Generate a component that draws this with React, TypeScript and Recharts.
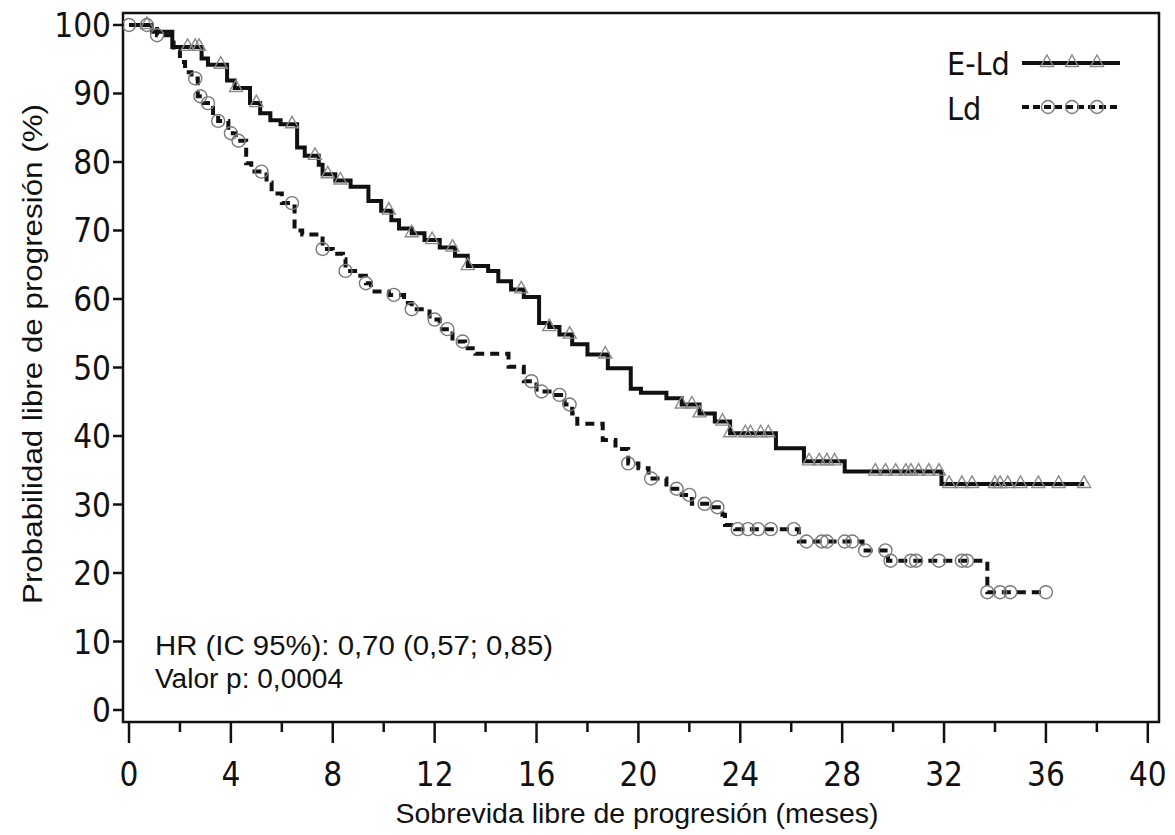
import { ComposedChart, Line, Scatter, XAxis, YAxis, ReferenceArea, Legend } from 'recharts';

const NARROW = '"Liberation Sans Narrow", "Arial Narrow", "DejaVu Sans Condensed", sans-serif';
const SANS = '"Liberation Sans", Arial, Helvetica, sans-serif';

const X_TICKS = [0, 2, 4, 6, 8, 10, 12, 14, 16, 18, 20, 22, 24, 26, 28, 30, 32, 34, 36, 38, 40];
const Y_TICKS = [0, 10, 20, 30, 40, 50, 60, 70, 80, 90, 100];

// E-Ld: step times (months) and survival (%) after each step
const eldTimes = [0, 0.9, 1.7, 2.85, 3.1, 3.85, 4.15, 4.75, 5.15, 5.55, 5.95, 6.6, 6.9, 7.45, 7.6, 8.1, 8.7, 9.4, 9.9, 10.3, 10.6, 11.1, 11.6, 12.2, 12.8, 13.3, 14.1, 14.5, 15.0, 15.5, 16.1, 16.5, 16.9, 17.4, 18.0, 18.8, 19.7, 20.1, 21.1, 21.7, 22.4, 23.0, 23.6, 25.4, 26.5, 28.1, 31.9, 37.5];
const eldSurv = [100, 99.0, 96.8, 95.1, 94.2, 91.9, 90.8, 88.6, 87.1, 86.1, 85.5, 82.1, 80.9, 79.6, 78.2, 77.3, 76.4, 74.3, 72.9, 71.5, 70.3, 69.6, 68.6, 67.5, 66.3, 64.8, 64.1, 62.6, 61.4, 60.3, 56.5, 55.9, 54.8, 53.4, 51.9, 49.9, 46.9, 46.3, 45.5, 44.6, 43.3, 42.1, 40.4, 38.2, 36.3, 34.8, 33.0, 33.0];
const eldCensored = [0.7, 2.3, 2.6, 2.75, 3.6, 4.2, 5.0, 6.4, 7.3, 7.8, 8.3, 10.2, 11.1, 11.9, 12.7, 13.3, 15.4, 16.5, 17.3, 18.7, 21.7, 22.1, 22.4, 23.3, 23.6, 24.2, 24.4, 24.8, 25.1, 26.7, 27.1, 27.4, 27.7, 29.3, 29.7, 30.1, 30.5, 30.7, 31.0, 31.4, 31.8, 32.2, 32.7, 33.1, 34.0, 34.2, 34.5, 35.0, 35.7, 36.5, 37.5];

// Ld
const ldTimes = [0, 1.1, 1.75, 2.0, 2.2, 2.45, 2.7, 2.9, 3.3, 3.5, 3.9, 4.2, 4.6, 4.8, 5.4, 5.6, 6.0, 6.5, 6.8, 7.6, 8.0, 8.4, 8.5, 9.0, 9.3, 9.5, 10.2, 10.8, 11.1, 11.8, 12.2, 12.7, 13.2, 13.6, 14.9, 15.5, 16.0, 16.6, 17.1, 17.4, 17.6, 18.6, 19.1, 19.6, 20.0, 20.4, 21.1, 21.7, 22.1, 22.7, 23.3, 23.4, 23.8, 26.3, 28.8, 29.8, 33.7, 36.0];
const ldSurv = [100, 98.5, 96.3, 94.6, 93.1, 92.2, 89.6, 88.6, 86.8, 86.0, 84.2, 83.1, 79.8, 78.6, 77.0, 75.4, 74.0, 70.0, 69.4, 67.3, 66.6, 65.8, 64.1, 63.4, 62.3, 61.1, 60.6, 59.4, 58.5, 57.0, 55.6, 53.8, 52.8, 52.0, 50.1, 48.0, 46.5, 46.0, 44.6, 43.3, 41.8, 39.4, 38.1, 36.0, 35.3, 33.8, 32.3, 31.4, 30.1, 29.6, 28.5, 27.0, 26.4, 24.6, 23.3, 21.8, 17.2, 17.2];
const ldCensored = [0, 0.7, 1.1, 2.6, 2.8, 3.1, 3.5, 4.0, 4.3, 5.2, 6.4, 7.6, 8.5, 9.3, 10.4, 11.1, 12.0, 12.5, 13.1, 15.8, 16.2, 16.9, 17.3, 19.6, 20.5, 21.5, 22.0, 22.6, 23.1, 23.9, 24.3, 24.7, 25.2, 26.1, 26.6, 27.2, 27.4, 28.1, 28.4, 28.9, 29.7, 29.9, 30.7, 30.9, 31.8, 32.7, 32.9, 33.7, 34.2, 34.6, 36.0];

function stepAt(times: number[], surv: number[], t: number) {
  let v = surv[0];
  for (let i = 0; i < times.length; i++) if (times[i] <= t) v = surv[i];
  return v;
}

const eldLine = eldTimes.map((t, i) => ({ t, s: eldSurv[i] }));
const ldLine = ldTimes.map((t, i) => ({ t, s: ldSurv[i] }));
const eldMarks = eldCensored.map(t => ({ t, s: stepAt(eldTimes, eldSurv, t) }));
const ldMarks = ldCensored.map(t => ({ t, s: stepAt(ldTimes, ldSurv, t) }));

const MARK_GREY = '#8a8a8a';

function triPath(cx: number, cy: number) {
  return `M${cx},${cy - 7} L${cx + 6.5},${cy + 4.5} L${cx - 6.5},${cy + 4.5} Z`;
}

const Triangle = (p: any) => (
  <path d={triPath(p.cx, p.cy - 1)} fill="none" stroke={MARK_GREY} strokeWidth={1.4} />
);
const Ring = (p: any) => (
  <circle cx={p.cx} cy={p.cy} r={6.5} fill="none" stroke="#7a7a7a" strokeWidth={1.4} />
);

const XTick = (p: any) => {
  const v = p.payload.value;
  const major = v % 4 === 0;
  return (
    <g>
      <line x1={p.x} x2={p.x} y1={p.y} y2={p.y + (major ? 21 : 10)} stroke="#111" strokeWidth={2.5} />
      {major && (
        <text x={p.x} y={p.y + 64} textAnchor="middle" fontFamily={NARROW} fontSize={33} fill="#111">
          {v}
        </text>
      )}
    </g>
  );
};

const YTick = (p: any) => (
  <g>
    <line x1={p.x - 10} x2={p.x} y1={p.y} y2={p.y} stroke="#111" strokeWidth={2.5} />
    <text x={p.x - 12} y={p.y + 12} textAnchor="end" fontFamily={NARROW} fontSize={33} fill="#111">
      {p.payload.value}
    </text>
  </g>
);

const renderLegend = () => (
  <svg width={220} height={95}>
    <text x={7} y={35} fontFamily={NARROW} fontSize={32} fill="#111">E-Ld</text>
    <line x1={82} x2={180} y1={23} y2={23} stroke="#111" strokeWidth={4} />
    {[107, 132, 157].map(x => (
      <path key={x} d={triPath(x, 22)} fill="none" stroke={MARK_GREY} strokeWidth={1.4} />
    ))}
    <text x={7} y={80} fontFamily={NARROW} fontSize={32} fill="#111">Ld</text>
    <line x1={82} x2={180} y1={67} y2={67} stroke="#111" strokeWidth={4} strokeDasharray="7 4" />
    {[108, 132, 157].map(x => (
      <circle key={x} cx={x} cy={67} r={6.5} fill="none" stroke="#7a7a7a" strokeWidth={1.4} />
    ))}
  </svg>
);

export default function App() {
  return (
    <div style={{ position: 'absolute', left: 0, top: 0, background: '#fff' }}>
      <ComposedChart width={1175} height={835} margin={{ top: 13, right: 16, bottom: 0, left: 0 }}>
        <XAxis
          dataKey="t"
          type="number"
          domain={[-0.236, 40.44]}
          ticks={X_TICKS}
          interval={0}
          allowDataOverflow
          axisLine={false}
          tickLine={false}
          tickSize={0}
          tickMargin={0}
          height={113}
          tick={XTick}
          label={{
            content: (props: any) => (
              <text x={637} y={823} textAnchor="middle" fontFamily={SANS} fontSize={27} fill="#111"
                textLength={483} lengthAdjust="spacingAndGlyphs">
                Sobrevida libre de progresión (meses)
              </text>
            ),
          }}
        />
        <YAxis
          type="number"
          domain={[-1.75, 101.75]}
          ticks={Y_TICKS}
          interval={0}
          allowDataOverflow
          axisLine={false}
          tickLine={false}
          tickSize={0}
          tickMargin={0}
          width={123}
          tick={YTick}
          label={{
            content: (props: any) => (
              <text x={0} y={0} transform="translate(42,354) rotate(-90)" textAnchor="middle" fontFamily={SANS}
                fontSize={28} fill="#111" textLength={500} lengthAdjust="spacingAndGlyphs">
                Probabilidad libre de progresión (%)
              </text>
            ),
          }}
        />
        <ReferenceArea x1={-0.236} x2={40.44} y1={-1.75} y2={101.75} fill="none" stroke="#111" strokeWidth={2.5} />
        <Legend
          layout="vertical"
          align="center"
          verticalAlign="middle"
          content={renderLegend}
          wrapperStyle={{ position: 'absolute', left: 940, top: 40, width: 220, height: 95 }}
        />
        <Line data={eldLine} dataKey="s" type="stepAfter" stroke="#111" strokeWidth={4} dot={false}
          isAnimationActive={false} legendType="none" />
        <Line data={ldLine} dataKey="s" type="stepAfter" stroke="#111" strokeWidth={4} strokeDasharray="9 6"
          dot={false} isAnimationActive={false} legendType="none" />
        <Scatter data={eldMarks} dataKey="s" shape={Triangle} isAnimationActive={false} legendType="none" />
        <Scatter data={ldMarks} dataKey="s" shape={Ring} isAnimationActive={false} legendType="none" />
        <text x={155} y={655} fontFamily={SANS} fontSize={27} fill="#111" textLength={398} lengthAdjust="spacingAndGlyphs">
          HR (IC 95%): 0,70 (0,57; 0,85)
        </text>
        <text x={155} y={688} fontFamily={SANS} fontSize={27} fill="#111" textLength={188} lengthAdjust="spacingAndGlyphs">
          Valor p: 0,0004
        </text>
      </ComposedChart>
    </div>
  );
}
